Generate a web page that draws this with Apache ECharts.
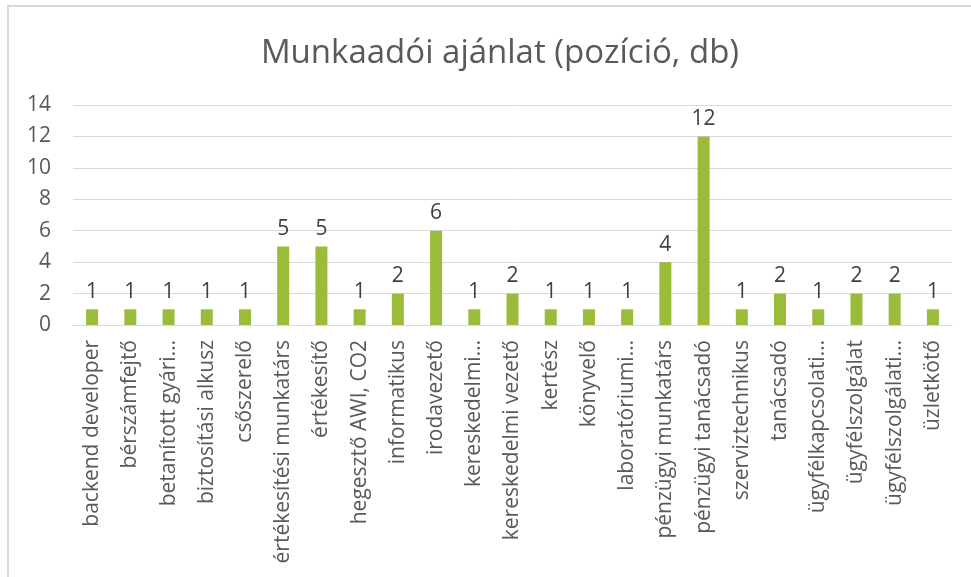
<!DOCTYPE html>
<html>
<head>
<meta charset="utf-8">
<script src="https://cdn.jsdelivr.net/npm/echarts@6/dist/echarts.min.js"></script>
<style>
  html, body { margin: 0; padding: 0; background: #fff; }
  #chart { width: 971px; height: 577px; }
</style>
</head>
<body>
<div id="chart"></div>
<script>
const titleText = 'Munkaadói ajánlat (pozíció, db)'

const categories = [
  'backend developer', 'bérszámfejtő', 'betanított gyári…', 'biztosítási alkusz',
  'csőszerelő', 'értékesítési munkatárs', 'értékesítő', 'hegesztő AWI, CO2',
  'informatikus', 'irodavezető', 'kereskedelmi…', 'kereskedelmi vezető',
  'kertész', 'könyvelő', 'laboratóriumi…', 'pénzügyi munkatárs',
  'pénzügyi tanácsadó', 'szerviztechnikus', 'tanácsadó', 'ügyfélkapcsolati…',
  'ügyfélszolgálat', 'ügyfélszolgálati…', 'üzletkötő',
]

const positions = [1, 1, 1, 1, 1, 5, 5, 1, 2, 6, 1, 2, 1, 1, 1, 4, 12, 1, 2, 1, 2, 2, 1]

const yTicks = { min: 0, max: 14, interval: 2 }

const font = '"Open Sans", "DejaVu Sans", sans-serif'

const chart = echarts.init(document.getElementById('chart'), null, { renderer: 'canvas' })

chart.setOption({
  backgroundColor: '#ffffff',
  animation: false,
  graphic: [
    {
      type: 'rect',
      shape: { x: 8, y: 6, width: 1100, height: 800 },
      style: { fill: 'none', stroke: '#d9d9d9', lineWidth: 2 },
      silent: true,
    },
  ],
  title: {
    text: titleText,
    left: 495,
    top: 32,
    textAlign: 'center',
    textStyle: { fontFamily: font, fontSize: 33, fontWeight: 'normal', color: '#595959' },
  },
  grid: { left: 73, right: 19, top: 105, bottom: 252 },
  xAxis: {
    type: 'category',
    data: categories,
    axisLine: { lineStyle: { color: '#d9d9d9', width: 1 } },
    axisTick: { show: false },
    axisLabel: {
      interval: 0,
      rotate: 90,
      margin: 15,
      fontFamily: font,
      fontSize: 21,
      color: '#595959',
    },
  },
  yAxis: {
    type: 'value',
    min: yTicks.min,
    max: yTicks.max,
    interval: yTicks.interval,
    axisLine: { show: false },
    axisTick: { show: false },
    splitLine: { lineStyle: { color: '#d9d9d9', width: 1 } },
    axisLabel: { margin: 22, fontFamily: font, fontSize: 21, color: '#595959' },
  },
  series: [
    {
      type: 'bar',
      data: positions,
      barWidth: 12,
      itemStyle: { color: '#9bbb3b' },
      label: {
        show: true,
        position: 'top',
        distance: 7,
        fontFamily: font,
        fontSize: 21,
        color: '#404040',
      },
    },
  ],
})
</script>
</body>
</html>
